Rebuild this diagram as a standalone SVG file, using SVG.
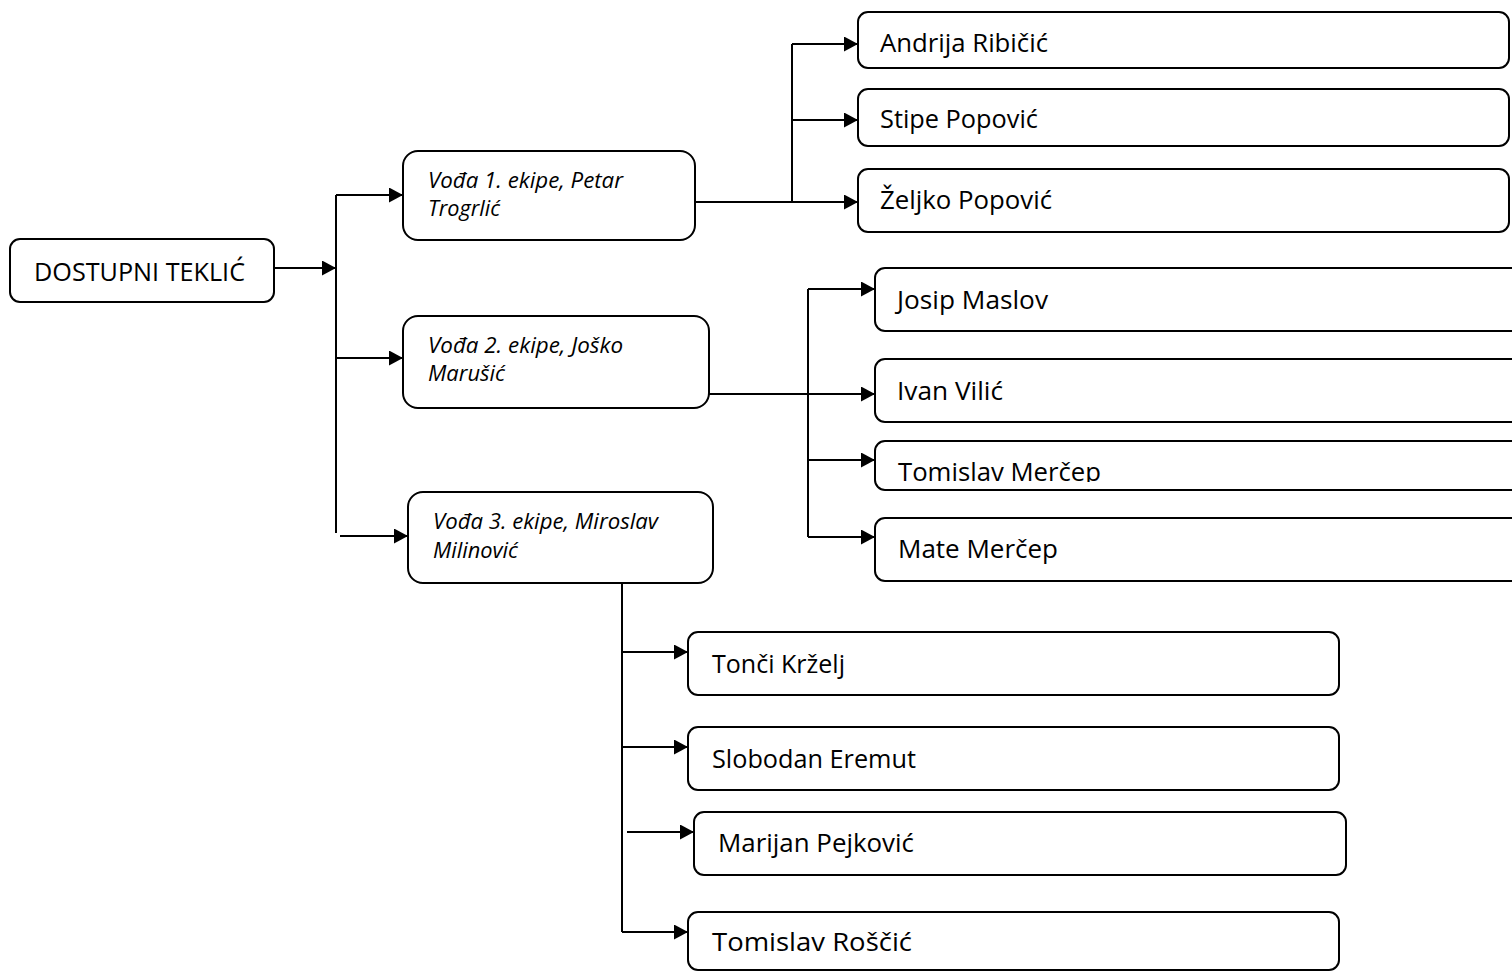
<svg xmlns="http://www.w3.org/2000/svg" width="1512" height="971" viewBox="0 0 1512 971">
<style>
.box{fill:#fff;stroke:#000;stroke-width:2}
.ln{fill:none;stroke:#000;stroke-width:2}
.arr{marker-end:url(#ah)}
.t{font-family:"Open Sans","Noto Sans","DejaVu Sans",sans-serif;font-size:25px;fill:#000}
.it{font-family:"Open Sans","Noto Sans","DejaVu Sans",sans-serif;font-size:21.5px;font-style:italic;fill:#000}
</style>
<defs>
<marker id="ah" markerUnits="userSpaceOnUse" markerWidth="14" markerHeight="15" refX="14" refY="7.5" orient="auto">
<path d="M0,0 L14,7.5 L0,15 z" fill="#000"/>
</marker>
<clipPath id="clipTM"><rect x="876" y="442" width="640" height="40"/></clipPath>
</defs>
<rect width="1512" height="971" fill="#fff"/>
<g id="connectors">
<path class="ln arr" d="M274,268 H336"/>
<path class="ln" d="M336,195 V533"/>
<path class="ln arr" d="M336,195 H403"/>
<path class="ln arr" d="M336,358 H403"/>
<path class="ln arr" d="M340,536 H408"/>
<path class="ln arr" d="M695,202 H858"/>
<path class="ln" d="M792,44 V202"/>
<path class="ln arr" d="M792,44 H858"/>
<path class="ln arr" d="M792,120 H858"/>
<path class="ln arr" d="M709,394 H875"/>
<path class="ln" d="M808,289 V537"/>
<path class="ln arr" d="M808,289 H875"/>
<path class="ln arr" d="M808,460 H875"/>
<path class="ln arr" d="M808,537 H875"/>
<path class="ln" d="M622,583 V932"/>
<path class="ln arr" d="M622,652 H688"/>
<path class="ln arr" d="M622,747 H688"/>
<path class="ln arr" d="M627,832 H694"/>
<path class="ln arr" d="M622,932 H688"/>
</g>
<g id="root">
<rect class="box" x="10" y="239" width="264" height="63" rx="10"/>
<text class="t" x="34" y="281" textLength="211" lengthAdjust="spacingAndGlyphs">DOSTUPNI TEKLIĆ</text>
</g>
<g id="leader1">
<rect class="box" x="403" y="151" width="292" height="89" rx="15"/>
<text class="it" x="428" y="188" textLength="195" lengthAdjust="spacingAndGlyphs">Vođa 1. ekipe, Petar</text>
<text class="it" x="428" y="216" textLength="72" lengthAdjust="spacingAndGlyphs">Trogrlić</text>
</g>
<g id="leader2">
<rect class="box" x="403" y="316" width="306" height="92" rx="15"/>
<text class="it" x="428" y="353" textLength="195" lengthAdjust="spacingAndGlyphs">Vođa 2. ekipe, Joško</text>
<text class="it" x="428" y="381" textLength="77" lengthAdjust="spacingAndGlyphs">Marušić</text>
</g>
<g id="leader3">
<rect class="box" x="408" y="492" width="305" height="91" rx="15"/>
<text class="it" x="433" y="529" textLength="225" lengthAdjust="spacingAndGlyphs">Vođa 3. ekipe, Miroslav</text>
<text class="it" x="433" y="558" textLength="85" lengthAdjust="spacingAndGlyphs">Milinović</text>
</g>
<g id="andrija">
<rect class="box" x="858" y="12" width="651" height="56" rx="10"/>
<text class="t" x="880" y="52" textLength="168" lengthAdjust="spacingAndGlyphs">Andrija Ribičić</text>
</g>
<g id="stipe">
<rect class="box" x="858" y="89" width="651" height="57" rx="10"/>
<text class="t" x="880" y="128" textLength="158" lengthAdjust="spacingAndGlyphs">Stipe Popović</text>
</g>
<g id="zeljko">
<rect class="box" x="858" y="169" width="651" height="63" rx="10"/>
<text class="t" x="880" y="209" textLength="172" lengthAdjust="spacingAndGlyphs">Željko Popović</text>
</g>
<g id="josip">
<rect class="box" x="875" y="268" width="660" height="63" rx="10"/>
<text class="t" x="897" y="309" textLength="151" lengthAdjust="spacingAndGlyphs">Josip Maslov</text>
</g>
<g id="ivan">
<rect class="box" x="875" y="359" width="660" height="63" rx="10"/>
<text class="t" x="897" y="400" textLength="106" lengthAdjust="spacingAndGlyphs">Ivan Vilić</text>
</g>
<g id="tomislavm">
<rect class="box" x="875" y="441" width="660" height="49" rx="10"/>
<text class="t" x="898" y="481" textLength="203" lengthAdjust="spacingAndGlyphs" clip-path="url(#clipTM)">Tomislav Merčep</text>
</g>
<g id="mate">
<rect class="box" x="875" y="518" width="660" height="63" rx="10"/>
<text class="t" x="898" y="558" textLength="160" lengthAdjust="spacingAndGlyphs">Mate Merčep</text>
</g>
<g id="tonci">
<rect class="box" x="688" y="632" width="651" height="63" rx="10"/>
<text class="t" x="712" y="673" textLength="133" lengthAdjust="spacingAndGlyphs">Tonči Krželj</text>
</g>
<g id="slobodan">
<rect class="box" x="688" y="727" width="651" height="63" rx="10"/>
<text class="t" x="712" y="768" textLength="204" lengthAdjust="spacingAndGlyphs">Slobodan Eremut</text>
</g>
<g id="marijan">
<rect class="box" x="694" y="812" width="652" height="63" rx="10"/>
<text class="t" x="718" y="852" textLength="196" lengthAdjust="spacingAndGlyphs">Marijan Pejković</text>
</g>
<g id="tomislavr">
<rect class="box" x="688" y="912" width="651" height="58" rx="10"/>
<text class="t" x="712" y="951" textLength="200" lengthAdjust="spacingAndGlyphs">Tomislav Roščić</text>
</g>
</svg>
